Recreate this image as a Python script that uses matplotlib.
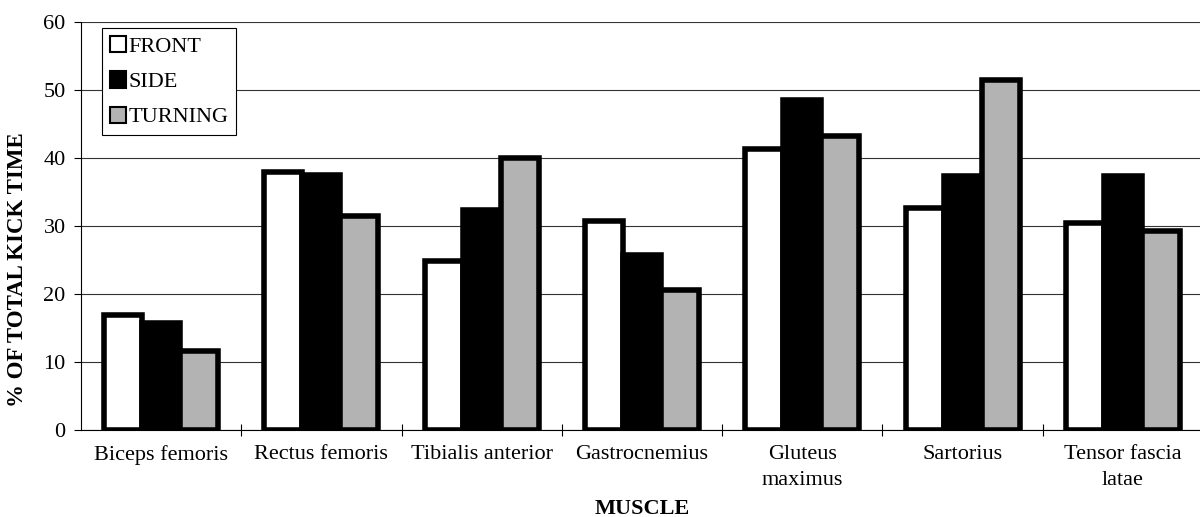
import matplotlib.pyplot as plt
import numpy as np
from matplotlib.patches import Patch

muscles = [
    "Biceps femoris",
    "Rectus femoris",
    "Tibialis anterior",
    "Gastrocnemius",
    "Gluteus\nmaximus",
    "Sartorius",
    "Tensor fascia\nlatae",
]
front = [16.9, 38.0, 24.9, 30.8, 41.3, 32.6, 30.5]
side = [15.7, 37.5, 32.4, 25.8, 48.6, 37.4, 37.4]
turning = [11.6, 31.5, 40.0, 20.6, 43.3, 51.5, 29.3]

plt.rcParams["font.family"] = ["Liberation Serif", "DejaVu Serif"]

fig = plt.figure(figsize=(12, 5.17), dpi=100)
ax = fig.add_axes([81 / 1200, 1 - 430 / 517, 1122 / 1200, 408 / 517])

x = np.arange(len(muscles))
w = 0.237
series = [("FRONT", front, "white"), ("SIDE", side, "black"), ("TURNING", turning, "#b3b3b3")]
for i, (name, vals, col) in enumerate(series):
    ax.bar(x + (i - 1) * w, vals, w, color=col, edgecolor="black", linewidth=4, zorder=3)

ax.set_xlim(-0.5, len(muscles) - 0.5)
ax.set_ylim(0, 60)
ax.set_yticks(range(0, 61, 10))
ax.yaxis.grid(True, color="#333333", linewidth=0.8, zorder=0)
ax.set_xticks(x)
ax.set_xticklabels(muscles, fontsize=16, linespacing=1.45)
ax.tick_params(axis="x", length=0, pad=11)
ax.set_xticks(np.arange(0.5, len(muscles) - 0.5), minor=True)
ax.tick_params(axis="x", which="minor", length=8, direction="inout", width=0.8)
ax.tick_params(axis="y", labelsize=16, length=5, width=0.8, pad=6)
for s in ["top", "right"]:
    ax.spines[s].set_visible(False)
ax.spines["left"].set_linewidth(0.8)
ax.spines["bottom"].set_linewidth(0.8)

ax.set_ylabel("% OF TOTAL KICK TIME", fontsize=16.5, fontweight="bold")
ax.yaxis.set_label_coords(-0.047, 0.392)
ax.set_xlabel("MUSCLE", fontsize=16, fontweight="bold")
ax.xaxis.set_label_coords(0.5, -0.168)

handles = [Patch(facecolor=c, edgecolor="black", linewidth=1.5, label=n) for n, _, c in series]
leg = ax.legend(
    handles=handles,
    loc="upper left",
    bbox_to_anchor=(0.0187, 0.985),
    fontsize=16,
    fancybox=False,
    framealpha=1,
    edgecolor="black",
    handlelength=0.75,
    handleheight=0.75,
    handletextpad=0.1,
    labelspacing=0.65,
    borderpad=0.35,
    borderaxespad=0,
)
leg.get_frame().set_linewidth(0.8)

plt.savefig("out.png", dpi=100)
